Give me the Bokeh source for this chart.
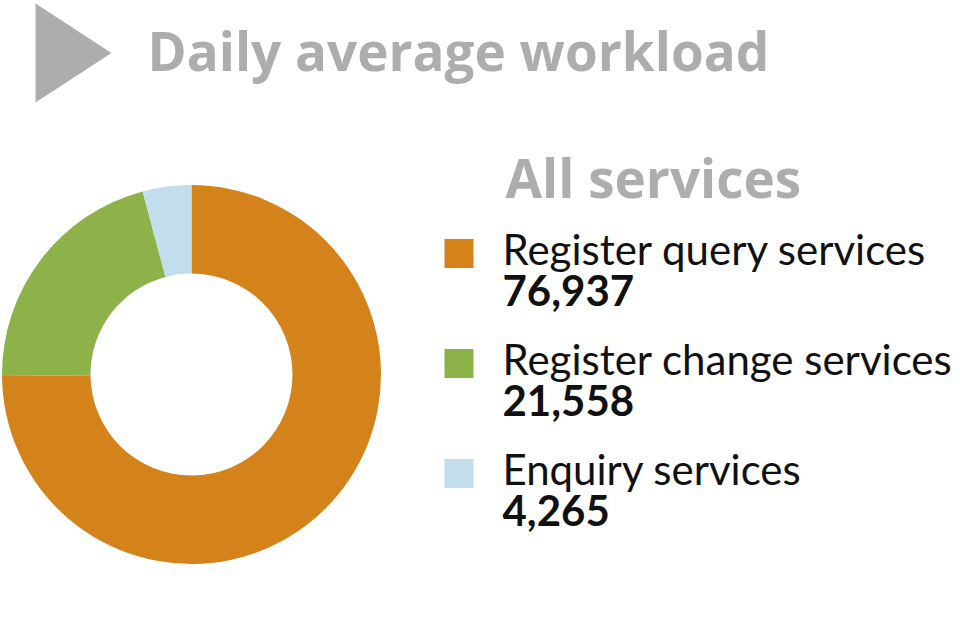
import numpy as np
from bokeh.plotting import figure
from bokeh.models import Range1d, ColumnDataSource
from bokeh.core.properties import value
from bokeh.embed import file_html
from bokeh.resources import INLINE

# ---- data ----
title = "Daily average workload"
subtitle = "All services"
categories = ["Register query services", "Register change services", "Enquiry services"]
values = [76937, 21558, 4265]
colors = ["#D4821A", "#8DB24A", "#C2DDEB"]

GREY = "#ADADAD"
W, H = 960, 640

def px(x):
    return x

def py(y):
    return H - y

p = figure(width=W, height=H, output_backend="svg", toolbar_location=None,
           x_range=Range1d(0, W), y_range=Range1d(0, H), min_border=0)
p.axis.visible = False
p.grid.visible = False
p.outline_line_color = None
p.background_fill_color = "white"
p.border_fill_color = "white"

# title arrow (decoration)
p.patch([px(35), px(35), px(111)], [py(3), py(102), py(52.5)], fill_color=GREY, line_color=None)
p.text(x=[px(147)], y=[py(50)], text=[title], text_font=value("Open Sans"), text_font_style="bold",
       text_font_size="53px", text_color=GREY, text_baseline="alphabetic")

# donut
vals = np.array(values, dtype=float)
frac = vals / vals.sum()
cum = np.concatenate([[0], np.cumsum(frac)])
start = np.pi / 2 - cum[:-1] * 2 * np.pi
end = np.pi / 2 - cum[1:] * 2 * np.pi
src = ColumnDataSource(dict(x=[px(191)] * len(values), y=[py(374)] * len(values),
                            start=start, end=end, color=colors))
p.annular_wedge(x="x", y="y", inner_radius=101, outer_radius=189.5, start_angle="start",
                end_angle="end", direction="clock", fill_color="color", line_color=None, source=src)

# subtitle
p.text(x=[px(505)], y=[py(177)], text=[subtitle], text_font=value("Open Sans"), text_font_style="bold",
       text_font_size="53px", text_color=GREY, text_baseline="alphabetic")

# legend
n = len(categories)
step = 110
sq_y = [py(253 + i * step) for i in range(n)]
lab_y = [py(248 + i * step) for i in range(n)]
num_y = [py(290 + i * step) for i in range(n)]
p.rect(x=[px(458.5)] * n, y=sq_y, width=29, height=29, fill_color=colors, line_color=None)
p.text(x=[px(502)] * n, y=lab_y, text=categories, text_font=value("Lato"),
       text_font_size="42px", text_color="#111111", text_baseline="alphabetic")
p.text(x=[px(502)] * n, y=num_y, text=[f"{v:,}" for v in values], text_font=value("Lato"),
       text_font_style="bold", text_font_size="42px", text_color="#111111", text_baseline="alphabetic")

open("out.html", "w").write(file_html(p, INLINE))
